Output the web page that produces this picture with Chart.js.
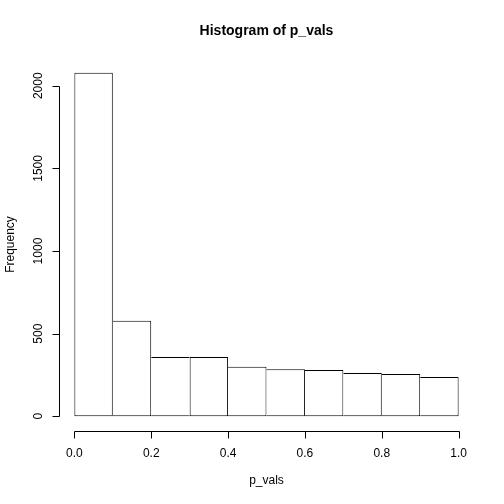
<!DOCTYPE html>
<html>
<head>
<meta charset="utf-8">
<script src="https://cdn.jsdelivr.net/npm/chart.js@4/dist/chart.umd.min.js"></script>
<style>
html,body{margin:0;padding:0;background:#fff;}
canvas{display:block;}
</style>
</head>
<body>
<canvas id="c" width="504" height="504"></canvas>
<script>
const binEdges = [0, 0.1, 0.2, 0.3, 0.4, 0.5, 0.6, 0.7, 0.8, 0.9, 1.0];
const counts = [2079, 578, 359, 359, 300, 284, 280, 262, 256, 238];
const xTicks = [0, 0.2, 0.4, 0.6, 0.8, 1.0];
const xTickLabels = ['0.0', '0.2', '0.4', '0.6', '0.8', '1.0'];
const yTicks = [0, 500, 1000, 1500, 2000];
const yTickLabels = ['0', '500', '1000', '1500', '2000'];
const titleText = 'Histogram of p_vals';
const xTitle = 'p_vals';
const yTitle = 'Frequency';

const FONT = '"Liberation Sans", Arial, Helvetica, sans-serif';

const points = counts.map((c, i) => ({ x: (binEdges[i] + binEdges[i + 1]) / 2, y: c }));
const last = counts.length - 1;

const rAxes = {
  id: 'rAxes',
  afterDraw(chart) {
    const ctx = chart.ctx;
    const xs = chart.scales.x, ys = chart.scales.y;
    const ca = chart.chartArea;
    ctx.save();
    ctx.strokeStyle = '#000';
    ctx.fillStyle = '#000';
    ctx.lineWidth = 1;
    // x axis
    const ax = ca.bottom + 1.5;
    const x0 = Math.round(xs.getPixelForValue(xTicks[0])) + 0.5;
    const x1 = Math.round(xs.getPixelForValue(xTicks[xTicks.length - 1])) + 0.5;
    ctx.beginPath();
    ctx.moveTo(x0, ax); ctx.lineTo(x1, ax);
    xTicks.forEach(v => {
      const p = Math.round(xs.getPixelForValue(v)) + 0.5;
      ctx.moveTo(p, ax); ctx.lineTo(p, ax + 7);
    });
    ctx.stroke();
    ctx.font = '12px ' + FONT;
    ctx.textAlign = 'center';
    ctx.textBaseline = 'alphabetic';
    xTicks.forEach((v, i) => {
      ctx.fillText(xTickLabels[i], xs.getPixelForValue(v), 456.5);
    });
    // y axis
    const ay = ca.left + 0.5;
    const y0 = Math.round(ys.getPixelForValue(yTicks[0])) + 0.5;
    const y1 = Math.round(ys.getPixelForValue(yTicks[yTicks.length - 1])) + 0.5;
    ctx.beginPath();
    ctx.moveTo(ay, y0); ctx.lineTo(ay, y1);
    yTicks.forEach(v => {
      const p = Math.round(ys.getPixelForValue(v)) + 0.5;
      ctx.moveTo(ay, p); ctx.lineTo(ay - 7, p);
    });
    ctx.stroke();
    yTicks.forEach((v, i) => {
      ctx.save();
      ctx.translate(41.5, ys.getPixelForValue(v));
      ctx.rotate(-Math.PI / 2);
      ctx.fillText(yTickLabels[i], 0, 0);
      ctx.restore();
    });
    // axis titles
    const cx = (ca.left + ca.right) / 2;
    const cy = (ca.top + ca.bottom) / 2;
    ctx.fillText(xTitle, cx, 484);
    ctx.save();
    ctx.translate(13.8, cy);
    ctx.rotate(-Math.PI / 2);
    ctx.fillText(yTitle, 0, 0);
    ctx.restore();
    // main title
    ctx.font = 'bold 14px ' + FONT;
    ctx.fillText(titleText, cx, 34.5);
    ctx.restore();
  }
};

new Chart(document.getElementById('c'), {
  type: 'bar',
  data: {
    datasets: [{
      data: points,
      backgroundColor: '#ffffff',
      borderColor: '#000000',
      borderSkipped: false,
      borderWidth: (ctx) => {
        const i = ctx.dataIndex;
        return {
          top: 1,
          bottom: 1,
          left: (i === 0 || counts[i] >= counts[i - 1]) ? 1 : 0,
          right: (i === last || counts[i] > counts[i + 1]) ? 1 : 0
        };
      },
      barPercentage: 1.0,
      categoryPercentage: 1.0,
      inflateAmount: 0
    }]
  },
  options: {
    responsive: false,
    animation: false,
    devicePixelRatio: 1,
    layout: { padding: { left: 59, top: 59, right: 30, bottom: 74 } },
    plugins: { legend: { display: false }, title: { display: false }, tooltip: { enabled: false } },
    scales: {
      x: { type: 'linear', min: -0.04, max: 1.04, display: false, offset: false },
      y: { type: 'linear', min: -83, max: 2162, display: false }
    }
  },
  plugins: [rAxes]
});
</script>
</body>
</html>
